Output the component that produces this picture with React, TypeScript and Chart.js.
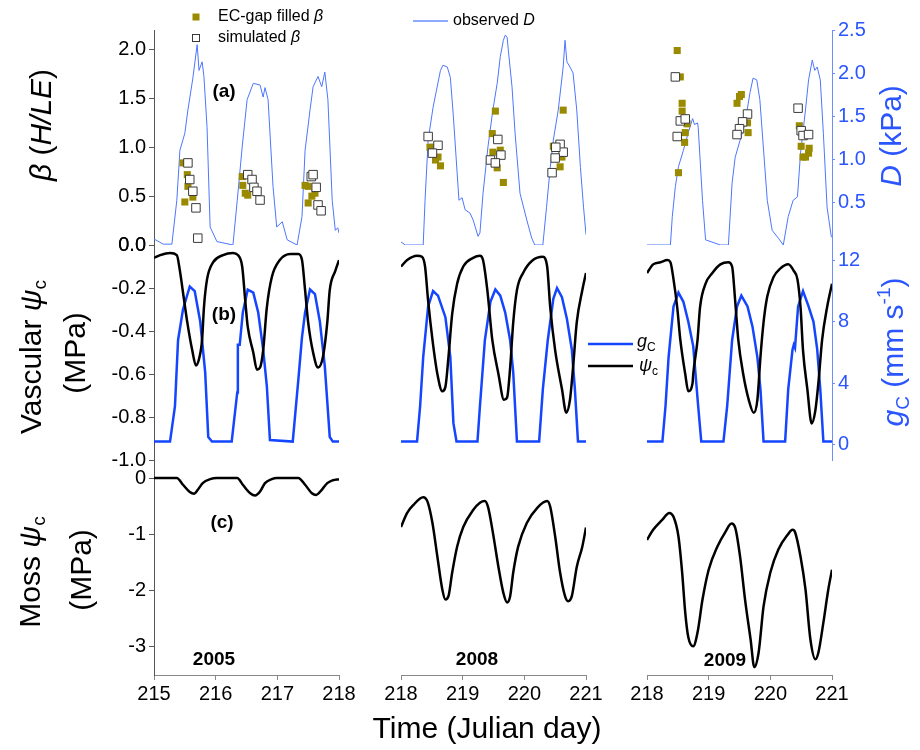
import React, { useEffect, useRef } from 'react';
import { Chart, registerables } from 'chart.js';

Chart.register(...registerables);

const FONT = '"Liberation Sans", Arial, Helvetica, sans-serif';
Chart.defaults.font.family = FONT;

const AXIS_BLUE = '#2a55ff';
const AXIS_BLUE_LINE = '#6d8cff';
const GC_BLUE = '#1446ff';
const D_BLUE = '#4d76ff';
const OLIVE = '#9a8a00';

// ---------- tick labels ----------
const x2005Ticks = [215, 216, 217, 218];
const xLaterTicks = [218, 219, 220, 221];
const betaTicks = [0, 0.5, 1.0, 1.5, 2.0];
const vascTicks = [0, -0.2, -0.4, -0.6, -0.8, -1.0];
const mossTicks = [0, -1, -2, -3];
const dTicks = [0.5, 1.0, 1.5, 2.0, 2.5];
const gcTicks = [0, 4, 8, 12];

// ---------- 2005 ----------
const d05Days = [215.0,215.15,215.29,215.37,215.42,215.5,215.55,215.63,215.70,215.73,215.78,215.81,215.86,215.91,216.02,216.28,216.35,216.43,216.51,216.61,216.72,216.77,216.8,216.85,216.93,216.99,217.08,217.16,217.32,217.4,217.45,217.53,217.58,217.66,217.72,217.77,217.82,217.89,217.94,217.98,218.0];
const d05D = [0.07,0.01,0.01,0.52,1.1,1.3,1.57,1.94,2.33,2.03,2.13,1.96,1.37,0.21,0.04,0.0,0.52,1.14,1.69,1.88,1.86,1.72,1.83,1.69,0.68,0.21,0.27,0.06,0.0,0.33,1.1,1.57,1.84,1.96,1.84,2.01,1.69,0.52,0.17,0.2,0.14];
const obs05Days = [215.47,215.54,215.55,215.63,215.5,216.43,216.44,216.48,216.52,217.45,217.5,217.56,217.5,217.61];
const obs05 = [0.84,0.72,0.6,0.49,0.44,0.70,0.61,0.53,0.51,0.61,0.60,0.50,0.43,0.53];
const sim05Days = [215.55,215.58,215.63,215.68,215.71,216.52,216.59,216.62,216.67,216.72,217.55,217.58,217.63,217.66,217.71];
const sim05 = [0.84,0.67,0.55,0.38,0.07,0.72,0.67,0.59,0.55,0.46,0.70,0.72,0.59,0.41,0.35];
const gc05Days = [215.0,215.26,215.34,215.39,215.47,215.58,215.66,215.75,215.83,215.88,215.94,216.26,216.35,216.36,216.39,216.44,216.52,216.61,216.69,216.77,216.83,216.88,217.25,217.34,217.4,217.45,217.53,217.61,217.69,217.77,217.85,217.9,218.0];
const gc05 = [0.2,0.2,2.5,6.8,8.8,10.3,10.0,8.0,4.7,0.5,0.2,0.2,3.4,6.5,6.5,8.6,10.1,9.9,8.6,6.2,3.8,0.3,0.2,4.2,7.0,8.6,10.1,9.8,8.0,5.1,0.5,0.2,0.2];
const psi05Days = [215.0,215.1,215.26,215.37,215.42,215.47,215.54,215.62,215.68,215.73,215.78,215.81,215.86,215.96,216.12,216.28,216.36,216.43,216.48,216.52,216.61,216.67,216.72,216.77,216.83,216.91,217.04,217.21,217.34,217.4,217.45,217.5,217.58,217.66,217.74,217.81,217.85,217.94,218.0];
const psi05 = [-0.06,-0.047,-0.037,-0.047,-0.12,-0.22,-0.36,-0.49,-0.56,-0.53,-0.44,-0.29,-0.16,-0.08,-0.047,-0.037,-0.047,-0.1,-0.26,-0.38,-0.5,-0.58,-0.57,-0.49,-0.29,-0.15,-0.07,-0.042,-0.042,-0.07,-0.21,-0.36,-0.5,-0.57,-0.52,-0.36,-0.21,-0.12,-0.07];
const moss05Days = [215.0,215.37,215.47,215.58,215.65,215.71,215.79,215.91,216.02,216.35,216.44,216.56,216.64,216.72,216.8,216.91,216.99,217.34,217.45,217.56,217.63,217.72,217.81,217.9,218.0];
const moss05 = [0,0,-0.12,-0.25,-0.28,-0.21,-0.09,-0.02,0,0,-0.12,-0.27,-0.31,-0.24,-0.09,-0.02,0,0,-0.12,-0.27,-0.3,-0.21,-0.09,-0.04,-0.02];

// ---------- 2008 ----------
const d08Days = [218.0,218.07,218.36,218.39,218.44,218.52,218.57,218.64,218.68,218.75,218.8,218.85,218.91,218.94,218.99,219.04,219.12,219.17,219.25,219.28,219.33,219.41,219.49,219.56,219.61,219.66,219.69,219.72,219.74,219.8,219.85,219.93,220.04,220.12,220.17,220.3,220.36,220.42,220.47,220.55,220.63,220.66,220.69,220.74,220.79,220.85,220.91,220.96,221.0];
const d08D = [0.035,0,0,0.52,1.22,1.6,1.78,2.03,2.09,2.07,1.95,1.49,0.84,0.52,0.55,0.41,0.37,0.29,0.1,0.14,0.6,1.14,1.57,1.88,2.19,2.38,2.44,2.42,2.27,1.84,1.3,0.6,0.29,0.08,0,0,0.44,0.9,1.22,1.57,2.07,2.38,2.13,2.07,2.0,1.57,0.9,0.44,0.12];
const obs08Days = [218.52,218.56,218.6,218.64,218.47,219.53,219.48,219.49,219.61,219.56,219.66,220.63,220.47,220.61,220.58];
const obs08 = [1.0,0.87,0.9,0.81,1.0,1.37,1.14,0.95,0.97,0.79,0.64,1.38,1.01,0.9,0.8];
const sim08Days = [218.44,218.6,218.51,219.57,219.62,219.45,219.53,220.58,220.63,220.5,220.45,220.51];
const sim08 = [1.11,1.02,0.94,1.08,0.92,0.87,0.84,1.03,0.95,0.89,0.74,1.0];
const gc08Days = [218.0,218.26,218.31,218.36,218.44,218.52,218.6,218.72,218.8,218.85,218.9,219.24,219.28,219.36,219.45,219.53,219.61,219.69,219.77,219.82,219.88,220.24,220.3,220.38,220.47,220.53,220.61,220.69,220.77,220.82,220.87,221.0];
const gc08 = [0.2,0.2,2.5,5.7,9.0,10.0,9.7,8.3,5.7,1.4,0.2,0.2,2.5,6.8,9.3,10.1,9.7,8.6,6.8,4.7,0.2,0.2,3.6,6.8,9.5,10.2,9.6,8.2,6.2,3.6,0.2,0.2];
const psi08Days = [218.0,218.1,218.26,218.34,218.39,218.44,218.51,218.59,218.67,218.72,218.77,218.83,218.91,219.01,219.17,219.28,219.33,219.4,219.48,219.58,219.67,219.72,219.77,219.82,219.88,219.98,220.14,220.3,220.37,220.42,220.5,220.61,220.68,220.74,220.79,220.85,220.94,221.0];
const psi08 = [-0.1,-0.07,-0.05,-0.055,-0.1,-0.26,-0.44,-0.6,-0.68,-0.66,-0.52,-0.32,-0.18,-0.1,-0.06,-0.05,-0.07,-0.21,-0.44,-0.6,-0.72,-0.71,-0.57,-0.36,-0.21,-0.13,-0.07,-0.055,-0.1,-0.29,-0.49,-0.67,-0.78,-0.72,-0.57,-0.36,-0.21,-0.13];
const moss08Days = [218.0,218.1,218.2,218.36,218.43,218.51,218.59,218.67,218.72,218.77,218.83,218.91,219.01,219.17,219.28,219.36,219.41,219.49,219.58,219.66,219.72,219.77,219.82,219.9,220.04,220.21,220.37,220.42,220.5,220.58,220.66,220.71,220.77,220.85,220.94,221.0];
const moss08 = [-0.87,-0.62,-0.48,-0.34,-0.42,-0.8,-1.4,-1.98,-2.16,-2.1,-1.68,-1.22,-0.87,-0.57,-0.44,-0.41,-0.51,-0.97,-1.58,-2.04,-2.21,-2.1,-1.68,-1.22,-0.8,-0.53,-0.41,-0.51,-1.04,-1.68,-2.1,-2.19,-2.1,-1.58,-1.22,-0.88];

// ---------- 2009 ----------
const d09Days = [218.0,218.38,218.41,218.46,218.51,218.59,218.67,218.74,218.77,218.82,218.83,218.9,218.95,219.19,219.32,219.38,219.43,219.51,219.59,219.67,219.72,219.78,219.83,219.95,220.03,220.13,220.21,220.29,220.37,220.44,220.49,220.57,220.62,220.68,220.72,220.76,220.81,220.86,220.92,220.99];
const d09D = [0,0,0.33,0.68,0.91,1.1,1.31,1.47,1.4,1.42,1.37,0.52,0.06,0,0,0.72,1.02,1.22,1.42,1.77,1.94,1.92,1.69,0.52,0.17,0.08,0,0.33,0.52,0.56,1.07,1.57,1.92,2.15,2.03,2.07,1.92,1.3,0.44,0.09];
const obs09Days = [218.49,218.54,218.57,218.57,218.65,218.62,218.61,218.51,219.46,219.5,219.53,219.63,219.64,220.47,220.5,220.57,220.62,220.53,220.63];
const obs09 = [1.99,1.72,1.45,1.37,1.24,1.15,1.05,0.74,1.45,1.52,1.54,1.25,1.15,1.22,1.01,0.9,0.94,0.9,0.99];
const sim09Days = [218.46,218.54,218.62,218.49,219.63,219.55,219.5,219.46,220.45,220.5,220.53,220.62];
const sim09 = [1.72,1.27,1.29,1.11,1.34,1.26,1.19,1.13,1.4,1.17,1.12,1.13];
const gc09Days = [218.0,218.25,218.3,218.35,218.43,218.51,218.59,218.67,218.75,218.83,218.88,219.24,219.3,219.38,219.46,219.53,219.63,219.71,219.79,219.84,219.89,220.24,220.29,220.36,220.38,220.4,220.45,220.53,220.62,220.7,220.76,220.81,220.86,221.0];
const gc09 = [0.2,0.2,2.5,5.7,9.0,9.9,9.3,8.0,6.4,2.5,0.2,0.2,2.5,6.8,9.0,9.7,9.0,7.7,5.7,3.6,0.2,0.2,3.6,6.2,6.5,6.3,9.0,10.0,9.0,8.0,6.2,3.6,0.2,0.2];
const psi09Days = [218.0,218.1,218.22,218.33,218.38,218.43,218.49,218.54,218.62,218.67,218.74,218.75,218.82,218.86,218.95,219.06,219.19,219.32,219.38,219.43,219.48,219.56,219.65,219.73,219.79,219.84,219.89,219.95,220.05,220.16,220.29,220.38,220.44,220.49,220.53,220.6,220.67,220.73,220.78,220.84,220.92,221.0];
const psi09 = [-0.13,-0.09,-0.08,-0.07,-0.08,-0.16,-0.29,-0.44,-0.6,-0.68,-0.64,-0.6,-0.44,-0.29,-0.18,-0.13,-0.09,-0.08,-0.1,-0.26,-0.44,-0.6,-0.72,-0.78,-0.72,-0.52,-0.36,-0.24,-0.15,-0.11,-0.09,-0.12,-0.16,-0.29,-0.49,-0.67,-0.83,-0.77,-0.64,-0.44,-0.29,-0.18];
const moss09Days = [218.0,218.1,218.25,218.36,218.43,218.51,218.57,218.62,218.67,218.75,218.82,218.9,219.0,219.14,219.27,219.37,219.43,219.51,219.59,219.68,219.74,219.81,219.89,220.0,220.13,220.28,220.36,220.4,220.49,220.57,220.65,220.73,220.78,220.86,220.94,221.0];
const moss09 = [-1.1,-0.92,-0.74,-0.62,-0.69,-1.04,-1.68,-2.39,-2.83,-2.99,-2.74,-2.16,-1.63,-1.22,-0.96,-0.81,-0.88,-1.4,-2.16,-2.87,-3.36,-3.1,-2.28,-1.68,-1.27,-1.01,-0.92,-0.96,-1.4,-1.98,-2.87,-3.22,-3.1,-2.57,-1.98,-1.63];

// ---------- helpers ----------
type Seg = { t: string; it?: boolean; b?: boolean; s?: number; dy?: number };
type Item =
  | { kind: 'text'; segs: Seg[]; x: number; y: number; size: number; color?: string; align?: 'left' | 'center'; rot?: number }
  | { kind: 'line'; x1: number; x2: number; y: number; color: string; w: number }
  | { kind: 'square'; x: number; y: number; size: number; fill: string; stroke?: string };

function drawRich(ctx: CanvasRenderingContext2D, it: any, ox: number) {
  ctx.save();
  ctx.translate(it.x - ox, it.y);
  if (it.rot) ctx.rotate(it.rot);
  ctx.fillStyle = it.color || '#000';
  ctx.textBaseline = 'middle';
  ctx.textAlign = 'left';
  const fontOf = (sg: Seg) =>
    `${sg.it ? 'italic ' : ''}${sg.b ? 'bold ' : ''}${Math.round((sg.s || 1) * it.size)}px ${FONT}`;
  const widths = it.segs.map((sg: Seg) => {
    ctx.font = fontOf(sg);
    return ctx.measureText(sg.t).width;
  });
  const total = widths.reduce((a: number, b: number) => a + b, 0);
  let cx = it.align === 'left' ? 0 : -total / 2;
  it.segs.forEach((sg: Seg, i: number) => {
    ctx.font = fontOf(sg);
    ctx.fillText(sg.t, cx, (sg.dy || 0) * it.size);
    cx += widths[i];
  });
  ctx.restore();
}

function makeOverlay(items: Item[], ox: number) {
  return {
    id: 'overlay',
    afterDraw(chart: any) {
      const ctx: CanvasRenderingContext2D = chart.ctx;
      for (const it of items) {
        if (it.kind === 'text') drawRich(ctx, it, ox);
        else if (it.kind === 'line') {
          ctx.save();
          ctx.strokeStyle = it.color;
          ctx.lineWidth = it.w;
          ctx.beginPath();
          ctx.moveTo(it.x1 - ox, it.y);
          ctx.lineTo(it.x2 - ox, it.y);
          ctx.stroke();
          ctx.restore();
        } else if (it.kind === 'square') {
          ctx.save();
          const h = it.size / 2;
          ctx.fillStyle = it.fill;
          ctx.fillRect(it.x - ox - h, it.y - h, it.size, it.size);
          if (it.stroke) {
            ctx.strokeStyle = it.stroke;
            ctx.lineWidth = 1;
            ctx.strokeRect(it.x - ox - h + 0.5, it.y - h + 0.5, it.size - 1, it.size - 1);
          }
          ctx.restore();
        }
      }
    },
  };
}

const pts = (xs: number[], ys: number[]) => xs.map((x, i) => ({ x, y: ys[i] }));

function yScale(pos: 'left' | 'right', show: boolean, min: number, max: number, ticks: number[], dec: number, weight: number) {
  const left = pos === 'left';
  const lineColor = left ? '#555' : AXIS_BLUE_LINE;
  return {
    type: 'linear',
    position: pos,
    stack: left ? 'L' : 'R',
    stackWeight: 1,
    weight,
    min,
    max,
    afterBuildTicks: (s: any) => {
      s.ticks = ticks.map((v) => ({ value: v }));
    },
    afterFit: (s: any) => {
      s.width = show ? (left ? 154 : 40) : 0;
    },
    ticks: {
      display: show,
      autoSkip: false,
      font: { family: FONT, size: 20 },
      color: left ? '#000' : AXIS_BLUE,
      padding: 3,
      callback: (v: any) => Number(v).toFixed(dec),
    },
    grid: { display: show, drawOnChartArea: false, tickLength: left ? 5 : 3, color: lineColor },
    border: { display: show, color: lineColor, width: 1 },
  };
}

type Spec = {
  left: number; width: number; padL: number; padR: number;
  showLeft: boolean; showRight: boolean;
  xMin: number; xMax: number; xTicks: number[];
  dDays: number[]; dVals: number[]; obsDays: number[]; obsVals: number[];
  simDays: number[]; simVals: number[]; gcDays: number[]; gcVals: number[];
  psiDays: number[]; psiVals: number[]; mossDays: number[]; mossVals: number[];
  items: Item[];
};

function buildConfig(s: Spec): any {
  return {
    type: 'line',
    data: {
      datasets: [
        { label: 'simulated β', data: pts(s.simDays, s.simVals), yAxisID: 'yBeta', showLine: false, pointStyle: 'rect', pointRadius: 6, backgroundColor: '#fff', borderColor: '#3a3a3a', borderWidth: 1, order: 0 },
        { label: 'EC-gap filled β', data: pts(s.obsDays, s.obsVals), yAxisID: 'yBeta', showLine: false, pointStyle: 'rect', pointRadius: 5, backgroundColor: OLIVE, borderColor: OLIVE, borderWidth: 0, order: 1 },
        { label: 'ψc', data: pts(s.psiDays, s.psiVals), yAxisID: 'yVasc', borderColor: '#000', borderWidth: 2.5, pointRadius: 0, cubicInterpolationMode: 'monotone', order: 2 },
        { label: 'moss ψc', data: pts(s.mossDays, s.mossVals), yAxisID: 'yMoss', borderColor: '#000', borderWidth: 2.5, pointRadius: 0, cubicInterpolationMode: 'monotone', order: 2 },
        { label: 'gc', data: pts(s.gcDays, s.gcVals), yAxisID: 'yGc', borderColor: GC_BLUE, borderWidth: 2.5, pointRadius: 0, tension: 0, order: 3 },
        { label: 'observed D', data: pts(s.dDays, s.dVals), yAxisID: 'yD', borderColor: D_BLUE, borderWidth: 1, pointRadius: 0, tension: 0, order: 5 },
      ],
    },
    options: {
      animation: false,
      responsive: false,
      maintainAspectRatio: false,
      events: [],
      layout: { padding: { left: s.padL, right: s.padR, top: 30, bottom: 35 } },
      plugins: { legend: { display: false }, tooltip: { enabled: false }, title: { display: false } },
      scales: {
        x: {
          type: 'linear',
          position: 'bottom',
          min: s.xMin,
          max: s.xMax,
          afterBuildTicks: (sc: any) => {
            sc.ticks = s.xTicks.map((v) => ({ value: v }));
          },
          afterFit: (sc: any) => {
            sc.height = 40;
          },
          ticks: { font: { family: FONT, size: 20 }, color: '#000', padding: 2, maxRotation: 0, autoSkip: false, callback: (v: any) => String(v) },
          grid: { display: true, drawOnChartArea: false, tickLength: 5, color: '#888' },
          border: { display: true, color: '#888', width: 1 },
        },
        yBeta: yScale('left', s.showLeft, 0, 2.2, betaTicks, 1, 3),
        yVasc: yScale('left', s.showLeft, -1.0, 0, vascTicks, 1, 2),
        yMoss: yScale('left', s.showLeft, -3.5, 0.32, mossTicks, 0, 1),
        yD: yScale('right', s.showRight, 0, 2.5, dTicks, 1, 1),
        yGc: yScale('right', s.showRight, -1, 13, gcTicks, 0, 2),
        yDum: yScale('right', false, 0, 1, [], 0, 3),
      },
    },
    plugins: [makeOverlay(s.items, s.left)],
  };
}

const ROT = -Math.PI / 2;

const specs: Spec[] = [
  {
    left: 0, width: 364, padL: 0, padR: 25, showLeft: true, showRight: false,
    xMin: 215, xMax: 218, xTicks: x2005Ticks,
    dDays: d05Days, dVals: d05D, obsDays: obs05Days, obsVals: obs05, simDays: sim05Days, simVals: sim05,
    gcDays: gc05Days, gcVals: gc05, psiDays: psi05Days, psiVals: psi05, mossDays: moss05Days, mossVals: moss05,
    items: [
      { kind: 'text', segs: [{ t: 'β', it: true }, { t: ' (' }, { t: 'H/LE', it: true }, { t: ')' }], x: 43, y: 125, size: 30, rot: ROT },
      { kind: 'text', segs: [{ t: 'Vascular ' }, { t: 'ψ', it: true }, { t: 'c', s: 0.62, dy: 0.25 }], x: 33, y: 357, size: 30, rot: ROT },
      { kind: 'text', segs: [{ t: '(MPa)' }], x: 77, y: 353, size: 30, rot: ROT },
      { kind: 'text', segs: [{ t: 'Moss ' }, { t: 'ψ', it: true }, { t: 'c', s: 0.62, dy: 0.25 }], x: 32, y: 572, size: 30, rot: ROT },
      { kind: 'text', segs: [{ t: '(MPa)' }], x: 83, y: 570, size: 30, rot: ROT },
      { kind: 'text', segs: [{ t: '(a)', b: true }], x: 224, y: 92, size: 19 },
      { kind: 'text', segs: [{ t: '(b)', b: true }], x: 224, y: 315, size: 19 },
      { kind: 'text', segs: [{ t: '(c)', b: true }], x: 222, y: 523, size: 19 },
      { kind: 'text', segs: [{ t: '2005', b: true }], x: 214, y: 660, size: 19 },
      { kind: 'square', x: 196, y: 17, size: 7, fill: OLIVE },
      { kind: 'text', segs: [{ t: 'EC-gap filled ' }, { t: 'β', it: true }], x: 218, y: 17, size: 16, align: 'left' },
      { kind: 'square', x: 196, y: 38, size: 8, fill: '#fff', stroke: '#3a3a3a' },
      { kind: 'text', segs: [{ t: 'simulated ' }, { t: 'β', it: true }], x: 218, y: 38, size: 16, align: 'left' },
    ],
  },
  {
    left: 350, width: 260, padL: 51, padR: 24, showLeft: false, showRight: false,
    xMin: 218, xMax: 221, xTicks: xLaterTicks,
    dDays: d08Days, dVals: d08D, obsDays: obs08Days, obsVals: obs08, simDays: sim08Days, simVals: sim08,
    gcDays: gc08Days, gcVals: gc08, psiDays: psi08Days, psiVals: psi08, mossDays: moss08Days, mossVals: moss08,
    items: [
      { kind: 'line', x1: 413, x2: 448, y: 21, color: '#8eaaff', w: 2 },
      { kind: 'text', segs: [{ t: 'observed ' }, { t: 'D', it: true }], x: 453, y: 21, size: 16, align: 'left' },
      { kind: 'text', segs: [{ t: '2008', b: true }], x: 477, y: 660, size: 19 },
      { kind: 'text', segs: [{ t: 'Time (Julian day)' }], x: 487, y: 730, size: 30 },
    ],
  },
  {
    left: 580, width: 340, padL: 67, padR: 48, showLeft: false, showRight: true,
    xMin: 218, xMax: 221, xTicks: xLaterTicks,
    dDays: d09Days, dVals: d09D, obsDays: obs09Days, obsVals: obs09, simDays: sim09Days, simVals: sim09,
    gcDays: gc09Days, gcVals: gc09, psiDays: psi09Days, psiVals: psi09, mossDays: moss09Days, mossVals: moss09,
    items: [
      { kind: 'text', segs: [{ t: '2009', b: true }], x: 725, y: 661, size: 19 },
      { kind: 'line', x1: 588, x2: 633, y: 344, color: GC_BLUE, w: 2.5 },
      { kind: 'line', x1: 588, x2: 633, y: 366, color: '#000', w: 2.5 },
      { kind: 'text', segs: [{ t: 'g', it: true }, { t: 'C', s: 0.65, dy: 0.3 }], x: 637, y: 342, size: 18, align: 'left' },
      { kind: 'text', segs: [{ t: 'ψ', it: true }, { t: 'c', s: 0.65, dy: 0.3 }], x: 639, y: 366, size: 18, align: 'left' },
      { kind: 'text', segs: [{ t: 'D', it: true }, { t: ' (kPa)' }], x: 893, y: 136, size: 30, color: AXIS_BLUE, rot: ROT },
      { kind: 'text', segs: [{ t: 'g', it: true }, { t: 'C', s: 0.62, dy: 0.28 }, { t: ' (mm s' }, { t: '-1', s: 0.62, dy: -0.35 }, { t: ')' }], x: 895, y: 352, size: 30, color: AXIS_BLUE, rot: ROT },
    ],
  },
];

export default function App() {
  const r0 = useRef<HTMLCanvasElement>(null);
  const r1 = useRef<HTMLCanvasElement>(null);
  const r2 = useRef<HTMLCanvasElement>(null);
  const refs = [r0, r1, r2];

  useEffect(() => {
    const charts = specs.map((s, i) => new Chart(refs[i].current as HTMLCanvasElement, buildConfig(s)));
    return () => charts.forEach((c) => c.destroy());
  }, []);

  return (
    <div style={{ position: 'absolute', left: 0, top: 0, width: 920, height: 750, background: '#fff', overflow: 'hidden' }}>
      {specs.map((s, i) => (
        <canvas
          key={i}
          ref={refs[i]}
          width={s.width}
          height={750}
          style={{ position: 'absolute', left: s.left, top: 0, width: s.width, height: 750 }}
        />
      ))}
    </div>
  );
}
